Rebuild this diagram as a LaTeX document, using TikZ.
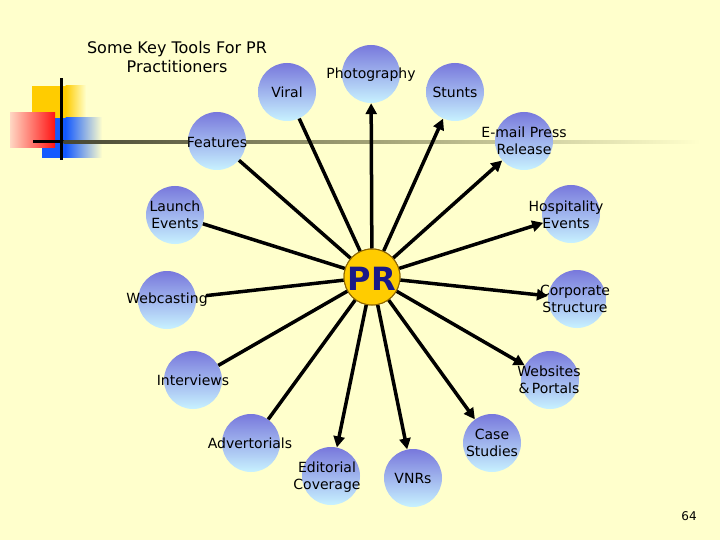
\documentclass[tikz,border=0pt]{standalone}
\usepackage{fontspec}
\setmainfont{DejaVu Sans}
\usetikzlibrary{arrows.meta}
\definecolor{bg}{RGB}{255,255,204}
\definecolor{bubtop}{RGB}{120,120,220}
\definecolor{bubbot}{RGB}{200,242,255}
\definecolor{prfill}{RGB}{255,204,0}
\definecolor{prdraw}{RGB}{140,100,0}
\definecolor{prtext}{RGB}{25,25,135}
\definecolor{decoyel}{RGB}{255,204,0}
\definecolor{decored}{RGB}{255,20,20}
\definecolor{decopink}{RGB}{255,215,195}
\definecolor{decoblue}{RGB}{20,90,255}
\definecolor{lineA}{RGB}{70,70,50}
\definecolor{lineB}{RGB}{165,165,120}
\tikzset{
  bub/.style={circle, minimum size=58pt, inner sep=0pt, draw=none, top color=bubtop, bottom color=bubbot},
  lbl/.style={font=\fontsize{14}{17}\selectfont, align=center, inner sep=0pt, text=black},
  spoke/.style={line width=3.5pt, black},
  arr/.style={spoke, -{Triangle[length=11pt,width=11pt]}}
}
\begin{document}
\begin{tikzpicture}[x=1pt,y=-1pt]
\useasboundingbox (0,0) rectangle (720,540);
\fill[bg] (0,0) rectangle (720,540);
% decoration
\fill[decoyel] (32,86) rectangle (66,118);
\shade[left color=decoyel, right color=bg] (65.5,86) rectangle (86,118);
\fill[decoblue] (42,118) rectangle (66,158);
\shade[left color=decoblue, right color=bg] (65.5,118) rectangle (102,158);
\shade[left color=decopink, right color=decored] (10,113) rectangle (55,148);
\fill[black] (33,140.5) rectangle (64,143.5);
\shade[left color=lineA, right color=bg, middle color=lineB] (63.5,140.5) rectangle (700,143.5);
\fill[black] (59.5,78) rectangle (62.5,160);
% title
\node[font=\fontsize{16}{19}\selectfont, align=center, inner sep=0pt] (title) at (177,57) {Some Key Tools For PR\\Practitioners};
% bubbles
\node[bub] (viral) at (287,92) {};
\node[bub] (photo) at (371,74) {};
\node[bub] (stunts) at (455,92) {};
\node[bub] (email) at (524,141) {};
\node[bub] (features) at (217,141) {};
\node[bub] (launch) at (175,215) {};
\node[bub] (hosp) at (571,214) {};
\node[bub] (webcast) at (167,300) {};
\node[bub] (corp) at (577,299) {};
\node[bub] (interv) at (193,380) {};
\node[bub] (web) at (550,380) {};
\node[bub] (advert) at (251,443) {};
\node[bub] (case) at (492,443) {};
\node[bub] (edit) at (331,476) {};
\node[bub] (vnr) at (413,478) {};
% centre
\node[circle, minimum size=56pt, inner sep=0pt, fill=prfill, draw=prdraw, line width=1pt] (pr) at (372,277) {};
% spokes
\foreach \n in {photo,stunts,email,hosp,corp,web,case,vnr,edit}
  \draw[arr] (pr) -- (\n);
\foreach \n in {viral,features,launch,interv,advert}
  \draw[spoke] (pr) -- (\n);
\draw[spoke, shorten >=10pt] (pr) -- (webcast);
\node[circle, minimum size=56pt, inner sep=0pt, fill=prfill, draw=prdraw, line width=1pt] (pr2) at (372,277) {};
\node[font=\fontsize{32}{32}\selectfont\bfseries, text=prtext, inner sep=0pt] (prt) at (372,279) {PR};
% labels
\node[lbl] (tviral) at (287,92) {Viral};
\node[lbl] (tphoto) at (371,75) {Photography};
\node[lbl] (tstunts) at (455,92) {Stunts};
\node[lbl] (temail) at (524,141) {E-mail Press\\Release};
\node[lbl] (tfeatures) at (217,142) {Features};
\node[lbl] (tlaunch) at (175,215) {Launch\\Events};
\node[lbl] (thosp) at (566,215) {Hospitality\\Events};
\node[lbl] (twebcast) at (167,300) {Webcasting};
\node[lbl] (tcorp) at (575,299) {Corporate\\Structure};
\node[lbl] (tinterv) at (193,380) {Interviews};
\node[lbl] (tweb) at (549,380) {Websites\\\&\,Portals};
\node[lbl] (tadvert) at (250,443) {Advertorials};
\node[lbl] (tcase) at (492,443) {Case\\Studies};
\node[lbl] (tedit) at (327,477) {Editorial\\Coverage};
\node[lbl] (tvnr) at (413,478) {VNRs};
\node[font=\fontsize{12}{14}\selectfont, inner sep=0pt] (pg) at (689,516) {64};
\end{tikzpicture}
\end{document}
